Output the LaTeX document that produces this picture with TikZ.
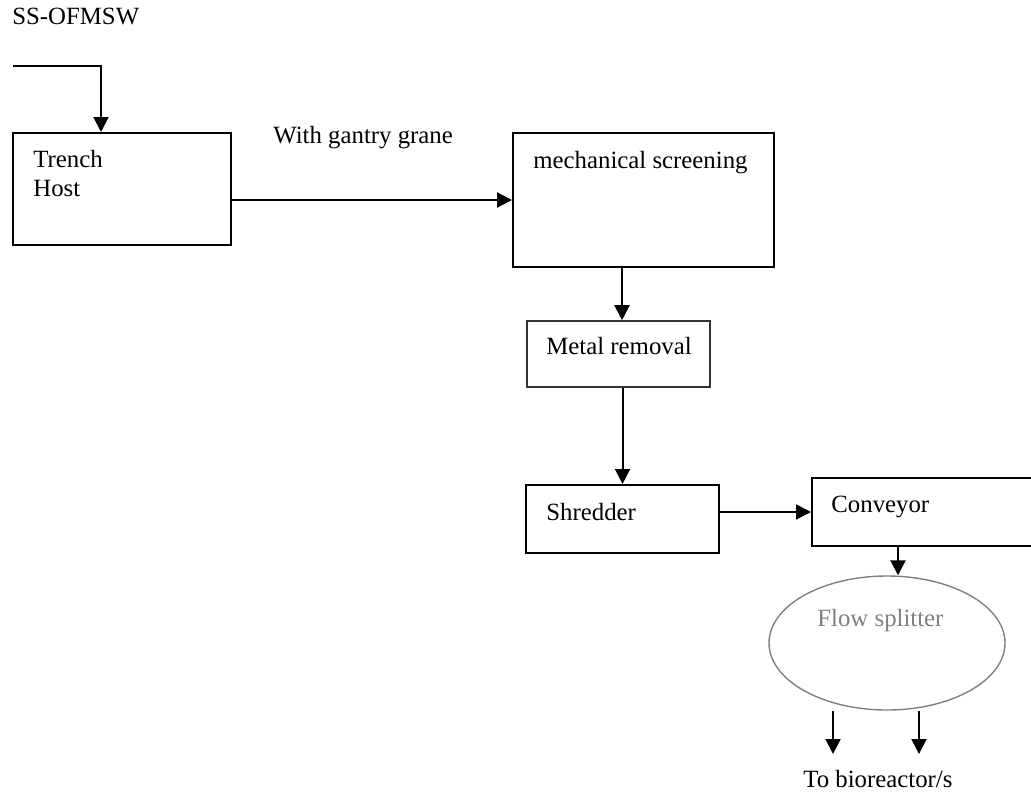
\documentclass[tikz,border=0pt]{standalone}
\usepackage{fontspec}
\setmainfont{Liberation Serif}
\usetikzlibrary{arrows.meta,fit,shapes.geometric}
\begin{document}
\begin{tikzpicture}[x=0.5pt,y=-0.5pt,
  box/.style={draw, line width=1pt, inner sep=0pt},
  thinbox/.style={draw=black!80, line width=0.8pt, inner sep=0pt},
  lbl/.style={anchor=base west, inner sep=0pt, font=\fontsize{12.4}{15}\selectfont},
  arr/.style={line width=1pt, -{Triangle[length=7.5pt,width=7.5pt]}},
  splitter/.style={draw=black!50, line width=0.7pt, ellipse, inner sep=0pt}]
\clip (0,0) rectangle (1031,797);
% boxes
\node[box, fit={(13,133) (231,245)}] (trench) {};
\node[box, fit={(513,133) (774,267)}] (mech) {};
\node[thinbox, fit={(527,321) (710,387)}] (metal) {};
\node[box, fit={(526,485) (719,553)}] (shred) {};
\node[box, fit={(812,478) (1040,546)}] (conv) {};
\node[splitter, minimum width=118pt, minimum height=67pt] (split) at (887,643) {};
% texts
\node[lbl] (t0) at (12,25) {SS-OFMSW};
\node[lbl] (t1) at (33,167) {Trench};
\node[lbl] (t2) at (33,196) {Host};
\node[lbl] (t3) at (273,143) {With gantry grane};
\node[lbl] (t4) at (533,168) {mechanical screening};
\node[lbl] (t5) at (546,354) {Metal removal};
\node[lbl] (t6) at (546,520) {Shredder};
\node[lbl] (t7) at (831,512) {Conveyor};
\node[lbl, text=black!50] (t8) at (817,626) {Flow splitter};
\node[lbl] (t9) at (803,787) {To bioreactor/s};
% connectors
\coordinate (in) at (13,66);
\draw[arr] (in) -| ([xshift=-10.5pt]trench.north);
\draw[arr] (trench.east |- mech.west) -- (mech.west);
\draw[arr] ([xshift=-10.75pt]mech.south) -- ([xshift=-10.75pt]mech.south |- metal.north);
\draw[arr] (metal.south -| shred.north) -- (shred.north);
\draw[arr] (shred.east |- conv.west) -- (conv.west);
\coordinate (c1) at (898,546);
\draw[arr] (c1) -- (c1 |- split.north);
\coordinate (o1) at (833,754);
\coordinate (o2) at (919,754);
\draw[arr] (o1 |- split.south) -- (o1);
\draw[arr] (o2 |- split.south) -- (o2);
\end{tikzpicture}
\end{document}
